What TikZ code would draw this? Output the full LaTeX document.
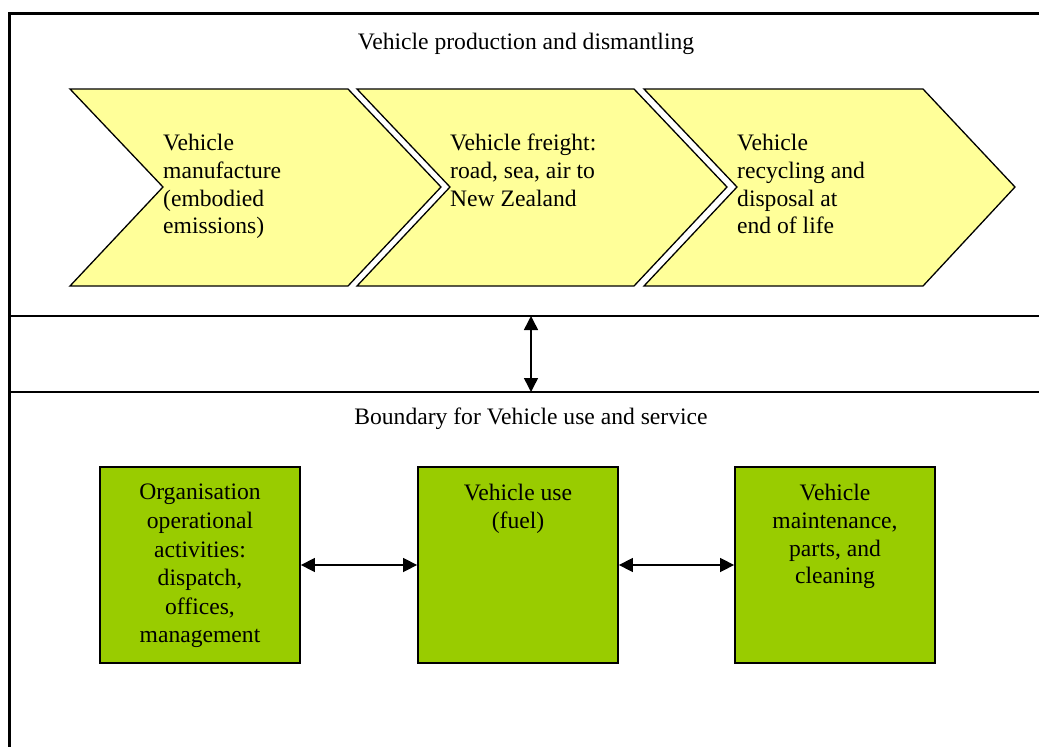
\documentclass[tikz,border=0pt]{standalone}
\usepackage{fontspec}
\setmainfont{Liberation Serif}
\usetikzlibrary{arrows.meta}
\definecolor{chevfill}{RGB}{255,255,153}
\definecolor{boxfill}{RGB}{153,204,0}
\tikzset{
  chev/.style={draw=black, line width=1.3pt, fill=chevfill, line join=miter},
  chevtext/.style={anchor=north west, inner sep=0pt, align=left,
    font=\fontsize{23.6}{27.8}\selectfont},
  gbox/.style={draw=black, line width=1.8pt, fill=boxfill, minimum width=200pt,
    minimum height=196pt, inner sep=0pt},
  boxtext/.style={anchor=north, inner sep=0pt, align=center,
    font=\fontsize{23.6}{27.8}\selectfont},
  title/.style={anchor=base, inner sep=0pt, font=\fontsize{23.6}{27.8}\selectfont},
  frame/.style={line width=3pt},
  sep/.style={line width=2pt},
  dbl/.style={line width=1.5pt, {Triangle[length=14pt,width=14pt]}-{Triangle[length=14pt,width=14pt]}}
}
\begin{document}
\begin{tikzpicture}[x=1pt, y=-1pt]
\useasboundingbox (0,0) rectangle (1039,747);
% outer frame
\draw[frame] (1045,13) -- (9,13) -- (9,750);
\draw[sep] (9,316) -- (1045,316);
\draw[sep] (9,392) -- (1045,392);
% titles
\node[title] (t1) at (526,49.5) {Vehicle production and dismantling};
\node[title] (t2) at (531,424.5) {Boundary for Vehicle use and service};
% chevrons
\draw[chev] (70,89) -- (348,89) -- (441,187) -- (348,286) -- (70,286) -- (163,187) -- cycle;
\draw[chev] (357,89) -- (634,89) -- (727,187) -- (634,286) -- (357,286) -- (450,187) -- cycle;
\draw[chev] (644,89) -- (923,89) -- (1015,187) -- (923,286) -- (644,286) -- (737,187) -- cycle;
\node[chevtext] (c1) at (163,134) {Vehicle\\manufacture\\(embodied\\emissions)};
\node[chevtext] (c2) at (450,134) {Vehicle freight:\\road, sea, air to\\New Zealand};
\node[chevtext] (c3) at (737,134) {Vehicle\\recycling and\\disposal at\\end of life};
% vertical connector
\coordinate (vt) at (531,316);
\coordinate (vb) at (531,392);
\draw[dbl] (vt) -- (vb);
% green boxes
\node[gbox] (b1) at (200,565) {};
\node[gbox] (b2) at (518,565) {};
\node[gbox] (b3) at (835,565) {};
\node[boxtext, font=\fontsize{23.6}{28.6}\selectfont] (l1) at (200,484) {Organisation\\operational\\activities:\\dispatch,\\offices,\\management};
\node[boxtext] (l2) at (518,484) {Vehicle use\\(fuel)};
\node[boxtext] (l3) at (835,484) {Vehicle\\maintenance,\\parts, and\\cleaning};
% connectors
\draw[dbl] (b1.east) -- (b2.west);
\draw[dbl] (b2.east) -- (b3.west);
\end{tikzpicture}
\end{document}
